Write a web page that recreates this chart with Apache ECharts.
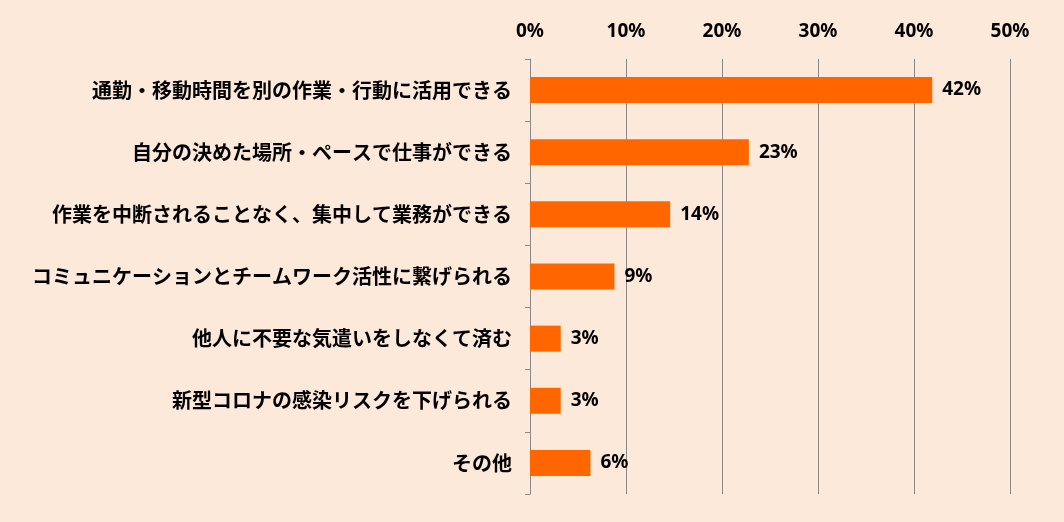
<!DOCTYPE html>
<html><head><meta charset="utf-8">
<script src="https://cdn.jsdelivr.net/npm/echarts@6/dist/echarts.min.js"></script>
<style>html,body{margin:0;padding:0;background:#fde9da}</style>
</head><body>
<div id="main" style="width:1064px;height:522px"></div>
<script>
var categories = ['通勤・移動時間を別の作業・行動に活用できる','自分の決めた場所・ペースで仕事ができる','作業を中断されることなく、集中して業務ができる','コミュニケーションとチームワーク活性に繋げられる','他人に不要な気遣いをしなくて済む','新型コロナの感染リスクを下げられる','その他'];
var values = [41.9, 22.8, 14.6, 8.8, 3.2, 3.2, 6.3];
var labels = ['42%','23%','14%','9%','3%','3%','6%'];

var myChart = echarts.init(document.getElementById('main'));
var option = {
    backgroundColor: '#fde9da',
    textStyle: {fontFamily: 'Noto Sans CJK JP'},
    grid: {left: 530, right: 54, top: 59, bottom: 28},
    xAxis: {
        type: 'value', position: 'top', min: 0, max: 50, interval: 10,
        axisLabel: {formatter: '{value}%', color: '#000', fontWeight: 'bold', fontSize: 19, fontFamily: 'Noto Sans', margin: 18},
        splitLine: {lineStyle: {color: '#888'}},
        axisLine: {show: false}, axisTick: {show: false}
    },
    yAxis: {
        type: 'category', inverse: true, data: categories,
        axisLabel: {color: '#000', fontSize: 20, fontWeight: 'bold', margin: 18},
        axisLine: {lineStyle: {color: '#888'}},
        axisTick: {show: true, length: 5, lineStyle: {color: '#888'}}
    },
    series: [{
        type: 'bar', barWidth: 26,
        data: values,
        itemStyle: {color: '#ff6600'},
        label: {show: true, position: 'right', distance: 10, color: '#000', fontWeight: 'bold', fontSize: 19, fontFamily: 'Noto Sans',
            formatter: function(p){ return labels[p.dataIndex]; }}
    }]
};
myChart.setOption(option);
</script>
</body></html>
